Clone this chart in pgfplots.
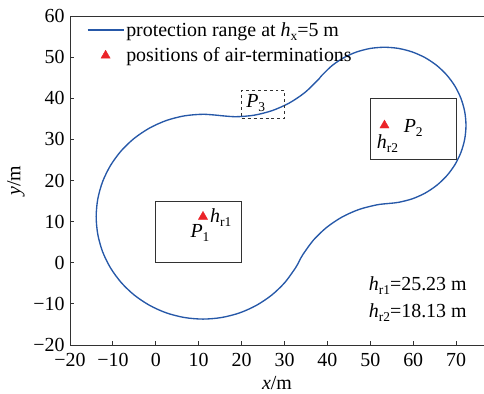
\documentclass[border=0pt]{standalone}
\usepackage{fontspec}
\setmainfont{Liberation Serif}
\usepackage{pgfplots}
\pgfplotsset{compat=1.18}
\definecolor{curveblue}{RGB}{38,88,168}
\definecolor{markred}{RGB}{235,35,40}
\definecolor{boxgray}{RGB}{50,50,50}
\newcommand{\sub}[1]{\raisebox{-0.45ex}{\fontsize{13.5}{13.5}\selectfont #1}}
\newcommand{\fs}{\fontsize{20}{22}\selectfont}
\begin{document}
\begin{tikzpicture}
\begin{axis}[
  scale only axis, width=414bp, height=329bp,
  xmin=-20, xmax=76.5, ymin=-20, ymax=60,
  axis x line*=bottom, axis y line*=left,
  axis line style={line width=0.9bp, boxgray},
  tick style={line width=0.9bp, boxgray},
  tick align=inside, major tick length=4bp,
  xtick={-20,-10,0,10,20,30,40,50,60,70},
  xticklabels={−20,−10,0,10,20,30,40,50,60,70},
  ytick={-20,-10,0,10,20,30,40,50,60},
  yticklabels={−20,−10,0,10,20,30,40,50,60},
  tick label style={font=\fs},
  xticklabel style={yshift=-5bp},
  yticklabel style={xshift=-2bp},
  every axis y label/.style={at={(axis description cs:0,0.5)}, xshift=-54bp, rotate=90, anchor=center},
  every axis x label/.style={at={(axis description cs:0.5,0)}, yshift=-38bp, anchor=center},
  label style={font=\fs},
  xlabel={\textit{x}/m}, ylabel={\textit{y}/m},
  legend style={draw=none, fill=none, at={(axis description cs:0.038,0.99)}, anchor=north west,
    font=\fs, row sep=6bp, inner sep=1bp},
  legend cell align=left,
  legend image code/.code={\draw[mark repeat=2,mark phase=2,#1] plot coordinates {(0bp,0bp) (18bp,0bp) (36bp,0bp)};},
]
\coordinate (SW) at (rel axis cs:0,0);
\coordinate (NE) at (rel axis cs:1,1);
\draw[line width=0.9bp, boxgray] (rel axis cs:0,1) -- (rel axis cs:1,1);
% protection range boundary
\addplot[curveblue, line width=1.35bp, smooth, tension=0.5] coordinates {
(14.81,35.81) (11,36.1) (6.68,35.72) (2.48,34.60) (-1.45,32.76) (-5.01,30.27) (-8.07,27.21)
(-10.56,23.65) (-12.40,19.72) (-13.52,15.52) (-13.9,11.2) (-13.52,6.88) (-12.40,2.68)
(-10.56,-1.25) (-8.07,-4.81) (-5.01,-7.87) (-1.45,-10.36) (2.48,-12.20) (6.68,-13.32)
(11,-13.7) (15.32,-13.32) (19.52,-12.20) (23.45,-10.36) (27.01,-7.87) (30.07,-4.81)
(32.56,-1.25) (33.42,0.36)
(34.27,1.97) (36.77,5.54) (39.85,8.62) (43.42,11.12) (47.37,12.96) (51.58,14.09) (54.44,14.43)
(56.60,14.69) (59.80,15.55) (62.80,16.95) (65.51,18.85) (67.85,21.19) (69.75,23.90)
(71.15,26.90) (72.01,30.10) (72.3,33.4) (72.01,36.70) (71.15,39.90) (69.75,42.90)
(67.85,45.61) (65.51,47.95) (62.80,49.85) (59.80,51.25) (56.60,52.11) (53.3,52.4)
(50.00,52.11) (46.80,51.25) (43.80,49.85) (41.09,47.95) (38.75,45.61) (38.33,45.10)
(37.79,44.44) (34.71,41.36) (31.14,38.86) (27.19,37.02) (22.98,35.89) (18.64,35.51) (14.81,35.81)
};
\addlegendentry{protection range at \textit{h}\sub{x}=5 m}
\addplot[only marks, mark=triangle*, mark size=5.3bp, markred, mark options={draw=markred, fill=markred}]
  coordinates {(11,11.2) (53.3,33.4)};
\addlegendentry{positions of air-terminations}
% boxes
\addplot[forget plot, boxgray, line width=1.1bp] coordinates {(0,0) (20,0) (20,15) (0,15) (0,0)};
\addplot[forget plot, boxgray, line width=1.1bp] coordinates {(50,25) (70,25) (70,40) (50,40) (50,25)};
\addplot[forget plot, boxgray, line width=1bp, dashed] coordinates {(20,35) (30,35) (30,42) (20,42) (20,35)};
% labels
\node[font=\fs] at (axis cs:10.3,7.2) {\textit{P}\sub{1}};
\node[font=\fs, anchor=west, inner sep=0pt] at (axis cs:12.6,10.9) {\textit{h}\sub{r1}};
\node[font=\fs] at (axis cs:60,32.8) {\textit{P}\sub{2}};
\node[font=\fs] at (axis cs:54,29) {\textit{h}\sub{r2}};
\node[font=\fs] at (axis cs:23.3,38.8) {\textit{P}\sub{3}};
\node[font=\fs, anchor=east, inner sep=0pt] at (axis cs:72.5,-5.65) {\textit{h}\sub{r1}=25.23 m};
\node[font=\fs, anchor=east, inner sep=0pt] at (axis cs:72.5,-12.1) {\textit{h}\sub{r2}=18.13 m};
\end{axis}
\pgfresetboundingbox
\useasboundingbox ([shift={(-70bp,-49bp)}]SW) rectangle ([shift={(0bp,16bp)}]NE);
\end{tikzpicture}
\end{document}
